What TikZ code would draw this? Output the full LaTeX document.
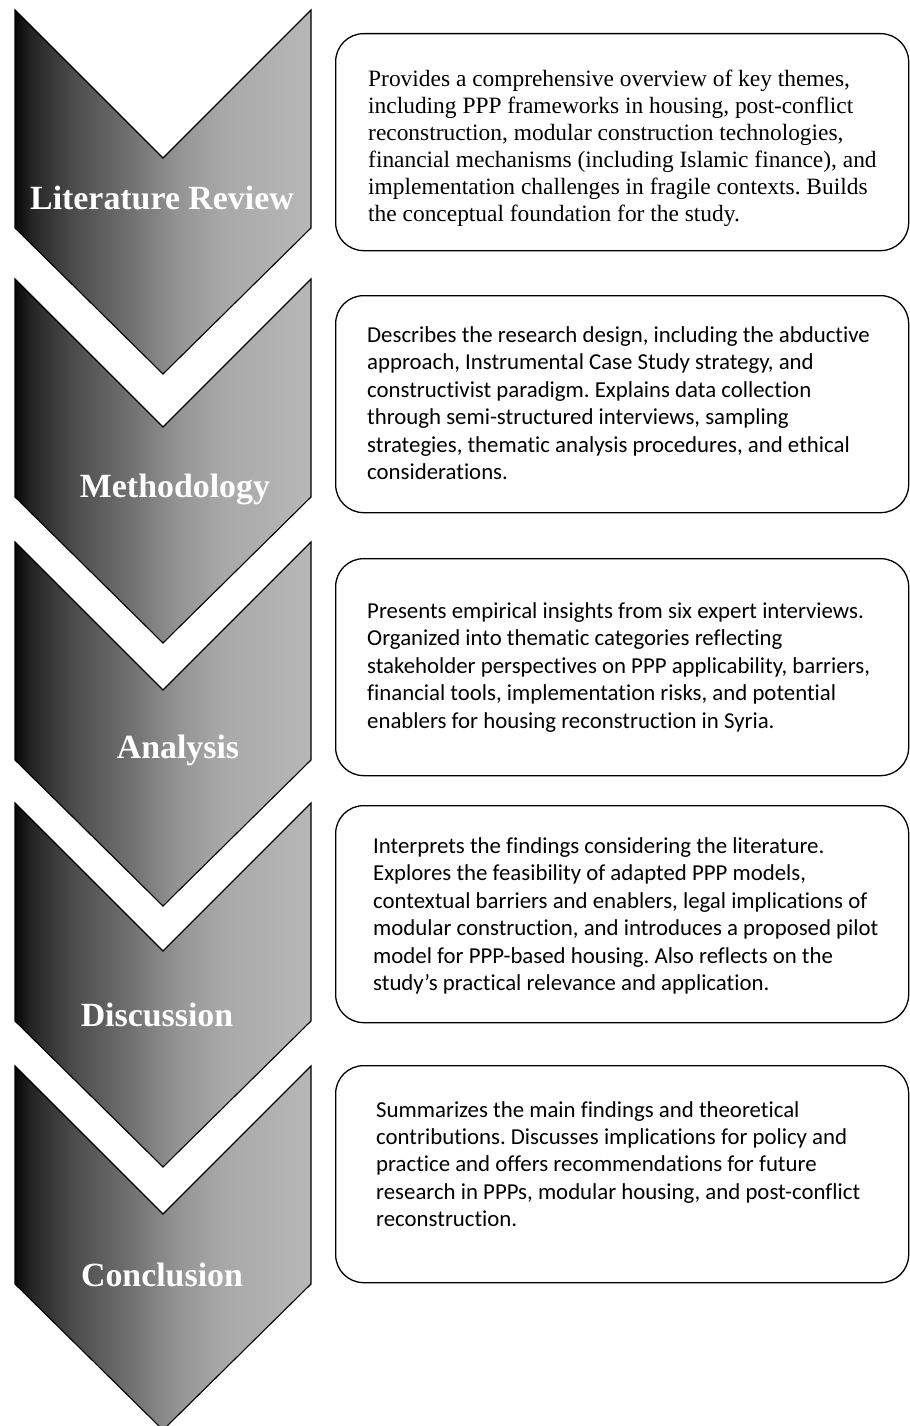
\documentclass[tikz,border=0pt]{standalone}
\usepackage{fontspec}
\setmainfont{Liberation Serif}
\newfontfamily\bodysans[Ligatures=NoCommon]{Carlito}
\usetikzlibrary{positioning}
% dark-to-light fill of the stage arrows (25bp..75bp is the path's width)
\pgfdeclarehorizontalshading{stagefill}{100bp}{color(0bp)=(black!97); color(25bp)=(black!97);
  color(28bp)=(black!85); color(35bp)=(black!70); color(45bp)=(black!55);
  color(52.5bp)=(black!42); color(60bp)=(black!34); color(75bp)=(black!28); color(100bp)=(black!28)}

\begin{document}
\frenchspacing
\begin{tikzpicture}[x=1bp,y=-1bp,
  stage/.style={draw=black,line width=1.1bp,shading=stagefill},
  stagelbl/.style={anchor=base,text=white,font=\fontsize{34}{40}\selectfont\bfseries},
  descbox/.style={draw=black,line width=1.3bp,rounded corners=28bp,anchor=north west,
    minimum width=573bp,minimum height=217bp},
  desc/.style={align=left,inner sep=0pt},
  serifdesc/.style={desc,font=\fontsize{23.5}{27}\selectfont},
  sansdesc/.style={desc,font=\bodysans\fontsize{22.9}{27.6}\selectfont}
]
\useasboundingbox (0,0) rectangle (909,1426);

% stage arrows: top edge / label / baseline offset / label centre / name
\foreach \top/\lbl/\ly/\lx/\nm in {10/Literature Review/200/162/lit,
    279/Methodology/218/175/meth, 542/Analysis/216/178/ana,
    803/Discussion/223/157/disc, 1066/Conclusion/220/162/concl}{
  \shadedraw[stage] (15,\top) -- (163,\top+148) -- (311,\top) -- (311,\top+218)
    -- (163,\top+364) -- (15,\top+218) -- cycle;
  \node[stagelbl] (\nm) at (\lx,\top+\ly) {\lbl};
}

% description boxes
\node[descbox] (litbox) at (335,33) {};
\node[descbox] (methbox) at (335,295) {};
\node[descbox] (anabox) at (335,558) {};
\node[descbox] (discbox) at (335,805) {};
\node[descbox] (conclbox) at (335,1065) {};

% their texts
\node[serifdesc,right=33bp of litbox.west,yshift=-6bp] (littxt) {Provides a comprehensive overview of key themes,\\including PPP frameworks in housing, post-conflict\\reconstruction, modular construction technologies,\\financial mechanisms (including Islamic finance), and\\implementation challenges in fragile contexts. Builds\\the conceptual foundation for the study.};
\node[sansdesc,right=32bp of methbox.west,yshift=1bp] (methtxt) {Describes the research design, including the abductive\\approach, Instrumental Case Study strategy, and\\constructivist paradigm. Explains data collection\\through semi-structured interviews, sampling\\strategies, thematic analysis procedures, and ethical\\considerations.};
\node[sansdesc,right=32bp of anabox.west] (anatxt) {Presents empirical insights from six expert interviews.\\Organized into thematic categories reflecting\\stakeholder perspectives on PPP applicability, barriers,\\financial tools, implementation risks, and potential\\enablers for housing reconstruction in Syria.};
\node[sansdesc,right=38bp of discbox.west,yshift=-2bp] (disctxt) {Interprets the findings considering the literature.\\Explores the feasibility of adapted PPP models,\\contextual barriers and enablers, legal implications of\\modular construction, and introduces a proposed pilot\\model for PPP-based housing. Also reflects on the\\study’s practical relevance and application.};
\node[sansdesc,right=41bp of conclbox.west,yshift=10bp] (concltxt) {Summarizes the main findings and theoretical\\contributions. Discusses implications for policy and\\practice and offers recommendations for future\\research in PPPs, modular housing, and post-conflict\\reconstruction.};
\end{tikzpicture}
\end{document}
